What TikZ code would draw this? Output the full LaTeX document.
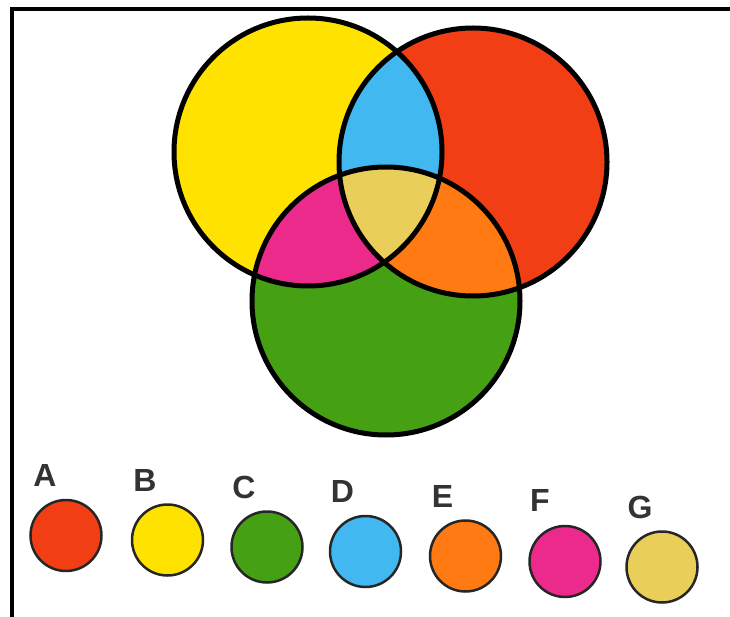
\documentclass[tikz,border=0pt]{standalone}
\usepackage{fontspec}
\setsansfont{Liberation Sans}
\usepackage{xcolor}
\definecolor{amarillo}{RGB}{255,226,0}
\definecolor{rojo}{RGB}{242,62,20}
\definecolor{verde}{RGB}{70,160,20}
\definecolor{azul}{RGB}{66,184,240}
\definecolor{naranja}{RGB}{255,122,18}
\definecolor{rosa}{RGB}{236,42,140}
\definecolor{oro}{RGB}{234,206,90}
\newcommand{\radio}{134pt}

\begin{document}
\begin{tikzpicture}[x=1pt, y=-1pt,
  marco/.style={line width=4.5pt},
  borde/.style={draw=black, line width=5pt},
  muestra/.style={circle, draw=black!85, line width=2.5pt, minimum size=71pt, inner sep=0pt},
  letra/.style={font=\sffamily\bfseries\fontsize{32}{32}\selectfont, text=black!80, inner sep=0pt}
]
\useasboundingbox (0,0) rectangle (730,617);
% marco
\draw[marco] (730,9) -- (12,9) -- (12,617);
% centros de los circulos grandes
\coordinate (cam) at (308,152);
\coordinate (cro) at (473,162);
\coordinate (cve) at (386,301);
% rellenos
\fill[amarillo] (cam) circle[radius=\radio];
\fill[rojo] (cro) circle[radius=\radio];
\fill[verde] (cve) circle[radius=\radio];
% intersecciones de dos
\begin{scope}
  \clip (cam) circle[radius=\radio];
  \fill[azul] (cro) circle[radius=\radio];
  \fill[rosa] (cve) circle[radius=\radio];
\end{scope}
\begin{scope}
  \clip (cro) circle[radius=\radio];
  \fill[naranja] (cve) circle[radius=\radio];
\end{scope}
% interseccion de las tres
\begin{scope}
  \clip (cam) circle[radius=\radio];
  \clip (cro) circle[radius=\radio];
  \fill[oro] (cve) circle[radius=\radio];
\end{scope}
% contornos
\draw[borde] (cam) circle[radius=\radio];
\draw[borde] (cro) circle[radius=\radio];
\draw[borde] (cve) circle[radius=\radio];
% muestras
\node[muestra, fill=rojo] (a) at (66,535.5) {};
\node[muestra, fill=amarillo] (b) at (167.5,540) {};
\node[muestra, fill=verde] (c) at (267,547) {};
\node[muestra, fill=azul] (d) at (365.5,551.5) {};
\node[muestra, fill=naranja] (e) at (465.5,556) {};
\node[muestra, fill=rosa] (f) at (565,561.5) {};
\node[muestra, fill=oro] (g) at (662,567) {};
% letras
\node[letra] (la) at (45,475) {A};
\node[letra] (lb) at (145,480) {B};
\node[letra] (lc) at (244,487) {C};
\node[letra] (ld) at (342.5,491.5) {D};
\node[letra] (le) at (442.5,496) {E};
\node[letra] (lf) at (540,500.5) {F};
\node[letra] (lg) at (640,507) {G};
\end{tikzpicture}
\end{document}
